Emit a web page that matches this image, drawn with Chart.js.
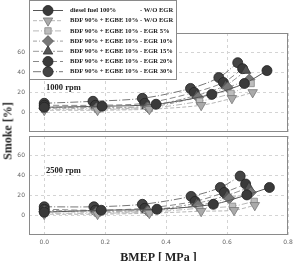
<!DOCTYPE html>
<html><head><meta charset="utf-8">
<script src="https://cdn.jsdelivr.net/npm/chart.js@4"></script>
<style>
html,body{margin:0;padding:0;background:#fff;width:293px;height:261px;overflow:hidden;position:relative}
canvas{position:absolute;left:0}
#c1{top:0}
#c2{top:134px}
#ytitle{position:absolute;left:8px;top:131px;transform:translate(-50%,-50%) rotate(-90deg);font:bold 12px "Liberation Serif",serif;color:#222;white-space:nowrap}
</style></head><body>
<canvas id="c1" width="293" height="134"></canvas>
<canvas id="c2" width="293" height="135"></canvas>
<div id="ytitle">Smoke [%]</div>
<script>
// ---- data ----
const seriesLabels = [
  'diesel fuel 100% - W/O EGR',
  'BDF 90% + EGBE 10% - W/O EGR',
  'BDF 90% + EGBE 10% - EGR 5%',
  'BDF 90% + EGBE 10% - EGR 10%',
  'BDF 90% + EGBE 10% - EGR 15%',
  'BDF 90% + EGBE 10% - EGR 20%',
  'BDF 90% + EGBE 10% - EGR 30%'
];
const panelLabels = ['1000 rpm', '2500 rpm'];
const xTicks = [0, 0.2, 0.4, 0.6, 0.8];
const yTicks = [0, 20, 40, 60];

// 1000 rpm : BMEP [MPa]
const bmep1000 = [
  [0, 0.19, 0.367, 0.55, 0.657, 0.731],
  [0, 0.175, 0.345, 0.515, 0.616, 0.684],
  [0, 0.175, 0.345, 0.51, 0.613, 0.679],
  [0, 0.172, 0.34, 0.505, 0.602, 0.673],
  [0, 0.17, 0.335, 0.5, 0.595, 0.662],
  [0, 0.168, 0.33, 0.492, 0.588, 0.651],
  [0, 0.16, 0.322, 0.48, 0.573, 0.635]
];
// 1000 rpm : Smoke [%]
const smoke1000 = [
  [5, 6, 8, 18, 29, 42],
  [2, 2, 3, 7, 14, 20],
  [3, 3, 4, 11, 19, 29],
  [4, 4, 5, 15, 25, 33],
  [5, 5, 6, 17, 27, 42],
  [7, 7, 9, 20, 30, 44],
  [9, 11, 14, 24, 35, 50]
];
// 2500 rpm : BMEP [MPa]
const bmep2500 = [
  [0, 0.187, 0.37, 0.555, 0.665, 0.739],
  [0, 0.175, 0.345, 0.515, 0.623, 0.691],
  [0, 0.175, 0.345, 0.51, 0.618, 0.689],
  [0, 0.172, 0.34, 0.505, 0.607, 0.678],
  [0, 0.17, 0.335, 0.5, 0.6, 0.672],
  [0, 0.168, 0.33, 0.495, 0.591, 0.661],
  [0, 0.163, 0.322, 0.482, 0.578, 0.643]
];
// 2500 rpm : Smoke [%]
const smoke2500 = [
  [3, 5, 6, 11, 20.5, 28],
  [1, 1, 2, 4, 5, 10],
  [2, 2, 3, 7, 9, 14],
  [4, 3, 4, 10, 17, 23],
  [5, 4, 5, 12, 20, 28],
  [6, 5, 7, 14, 23, 31.5],
  [8.5, 8.5, 11, 19, 28, 39.5]
];

// ---- styles ----
const styles = [
  {line:'#555', dash:[], shape:'circle', fill:'#3a3a3a', stroke:'#222', r:5, rot:0},
  {line:'#b8b8b8', dash:[4,2], shape:'triangle', fill:'#aaa', stroke:'#777', r:5.5, rot:180},
  {line:'#b8b8b8', dash:[6,2,1,2], shape:'rect', fill:'#bdbdbd', stroke:'#888', r:4.5, rot:0},
  {line:'#a0a0a0', dash:[4,2,1,2], shape:'rectRot', fill:'#777', stroke:'#555', r:5.5, rot:0},
  {line:'#999', dash:[6,2,2,2], shape:'triangle', fill:'#555', stroke:'#333', r:5.5, rot:0},
  {line:'#888', dash:[6,3], shape:'circle', fill:'#3a3a3a', stroke:'#222', r:5, rot:0},
  {line:'#777', dash:[8,2,1,2], shape:'circle', fill:'#444', stroke:'#222', r:5, rot:0}
];

function buildDatasets(xs, ys) {
  return seriesLabels.map((lab, i) => ({
    label: lab,
    data: xs[i].map((x, j) => ({x: x, y: ys[i][j]})),
    borderColor: styles[i].line,
    borderWidth: 1,
    borderDash: styles[i].dash,
    tension: 0.3,
    pointStyle: styles[i].shape,
    pointRotation: styles[i].rot,
    pointRadius: styles[i].r,
    pointBackgroundColor: styles[i].fill,
    pointBorderColor: styles[i].stroke,
    pointBorderWidth: 0.8,
    showLine: true,
    fill: false
  }));
}

const framePlugin = {
  id: 'frame',
  beforeDatasetsDraw(chart) {
    const a = chart.chartArea, ctx = chart.ctx;
    ctx.save();
    ctx.strokeStyle = '#8a8a8a';
    ctx.lineWidth = 1;
    ctx.setLineDash([]);
    ctx.strokeRect(Math.round(a.left) + 0.5, Math.round(a.top) + 0.5, Math.round(a.right - a.left) - 1, Math.round(a.bottom - a.top) - 1);
    ctx.restore();
  }
};

const rpmPlugin = {
  id: 'rpm',
  afterDatasetsDraw(chart, args, opts) {
    const a = chart.chartArea, ctx = chart.ctx;
    ctx.save();
    ctx.font = 'bold 8.5px "Liberation Serif", serif';
    ctx.fillStyle = '#222';
    ctx.textBaseline = 'middle';
    ctx.fillText(opts.text, a.left + 17, a.top + opts.dy);
    ctx.restore();
  }
};

const legendPlugin = {
  id: 'customLegend',
  afterDraw(chart) {
    const ctx = chart.ctx;
    ctx.save();
    ctx.fillStyle = '#fff';
    ctx.fillRect(29, 0, 148, 80);
    ctx.strokeStyle = '#8a8a8a';
    ctx.lineWidth = 1;
    ctx.strokeRect(29.5, 0.5, 147, 79);
    ctx.font = 'bold 6.6px "Liberation Serif", serif';
    ctx.fillStyle = '#222';
    ctx.textBaseline = 'middle';
    const refW = ctx.measureText(seriesLabels[1]).width;
    chart.data.datasets.forEach((ds, i) => {
      const y = 10.5 + i * 10.2;
      const st = styles[i];
      ctx.strokeStyle = st.line;
      ctx.lineWidth = 1;
      ctx.setLineDash(st.dash);
      ctx.beginPath();
      ctx.moveTo(33, y); ctx.lineTo(63, y);
      ctx.stroke();
      ctx.setLineDash([]);
      ctx.fillStyle = st.fill;
      ctx.strokeStyle = st.stroke;
      ctx.lineWidth = 0.8;
      Chart.helpers.drawPoint(ctx, {pointStyle: st.shape, radius: st.r, rotation: st.rot, borderWidth: 0.8}, 48, y);
      ctx.fillStyle = '#222';
      const lab = ds.label;
      if (i === 0) {
        const k = lab.indexOf(' - ');
        ctx.textAlign = 'left';
        ctx.fillText(lab.slice(0, k), 70, y);
        ctx.textAlign = 'right';
        ctx.fillText(lab.slice(k + 1), 70 + refW, y);
      } else {
        ctx.textAlign = 'left';
        ctx.fillText(lab, 70, y);
      }
    });
    ctx.restore();
  }
};

function makeChart(id, xs, ys, isBottom, label) {
  const plugins = [framePlugin, rpmPlugin];
  if (!isBottom) plugins.push(legendPlugin);
  return new Chart(document.getElementById(id), {
    type: 'line',
    data: {datasets: buildDatasets(xs, ys)},
    plugins: plugins,
    options: {
      responsive: false,
      animation: false,
      events: [],
      layout: {autoPadding: false, padding: {left: 0, right: 5, top: isBottom ? 2 : 33, bottom: isBottom ? 0 : 2}},
      plugins: {
        legend: {display: false},
        tooltip: {enabled: false},
        rpm: {text: label, dy: isBottom ? 35 : 55}
      },
      scales: {
        x: {
          type: 'linear', min: -0.05, max: 0.8,
          afterBuildTicks: s => { s.ticks = xTicks.map(v => ({value: v})); },
          afterFit: s => { s.height = isBottom ? 34 : 0; s.paddingLeft = 0; s.paddingRight = 0; },
          grid: {color: '#d4d4d4', lineWidth: 1, drawTicks: false},
          border: {display: false, dash: [3, 3]},
          ticks: {display: isBottom, color: '#666', padding: 4, font: {size: 6, family: '"DejaVu Sans", sans-serif'}, callback: v => Number(v).toFixed(1)},
          title: {display: isBottom, text: 'BMEP [ MPa ]', color: '#222', padding: {top: 0, bottom: 4}, font: {size: 12, weight: 'bold', family: '"Liberation Serif", serif'}}
        },
        y: {
          type: 'linear', min: -20, max: 80,
          afterBuildTicks: s => { s.ticks = yTicks.map(v => ({value: v})); },
          afterFit: s => { s.width = 29; s.paddingTop = 0; s.paddingBottom = 0; },
          grid: {color: '#d4d4d4', lineWidth: 1, drawTicks: false},
          border: {display: false, dash: [3, 3]},
          ticks: {color: '#666', padding: 4, font: {size: 6, family: '"DejaVu Sans", sans-serif'}}
        }
      }
    }
  });
}

makeChart('c1', bmep1000, smoke1000, false, panelLabels[0]);
makeChart('c2', bmep2500, smoke2500, true, panelLabels[1]);
</script>
</body></html>
